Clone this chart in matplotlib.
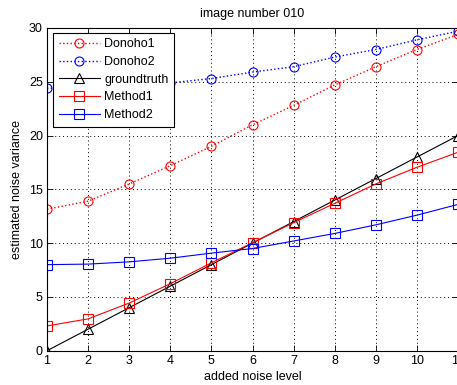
import matplotlib
matplotlib.use("Agg")
import matplotlib.pyplot as plt

plt.rcParams['font.family'] = ['Liberation Sans', 'DejaVu Sans']

noise_level = [1, 2, 3, 4, 5, 6, 7, 8, 9, 10, 11]
donoho1 = [13.15, 13.9, 15.5, 17.2, 19.0, 21.0, 22.8, 24.7, 26.4, 28.0, 29.4]
donoho2 = [24.4, 24.5, 24.7, 24.9, 25.3, 25.9, 26.4, 27.3, 28.0, 28.9, 29.7]
groundtruth = [0, 2, 4, 6, 8, 10, 12, 14, 16, 18, 20]
method1 = [2.3, 2.96, 4.43, 6.23, 8.17, 10.04, 11.9, 13.7, 15.5, 17.05, 18.45]
method2 = [8.0, 8.05, 8.26, 8.6, 9.07, 9.5, 10.2, 10.9, 11.7, 12.6, 13.6]
xticks = [1, 2, 3, 4, 5, 6, 7, 8, 9, 10, 11]
yticks = [0, 5, 10, 15, 20, 25, 30]

fig = plt.figure(figsize=(4.57, 3.85), dpi=100)
ax = fig.add_axes([47 / 457, 1 - 350.7 / 385, 411 / 457, 322.7 / 385])

mk = dict(markersize=6.5, markerfacecolor='none', markeredgewidth=0.8)
ax.plot(noise_level, donoho1, ':', color='#ff0000', marker='o', lw=1, label='Donoho1', **mk)
ax.plot(noise_level, donoho2, ':', color='#0000ff', marker='o', lw=1, label='Donoho2', **mk)
ax.plot(noise_level, groundtruth, '-', color='black', marker='^', lw=0.8, label='groundtruth', **mk)
ax.plot(noise_level, method1, '-', color='#ff0000', marker='s', lw=0.8, label='Method1', **mk)
ax.plot(noise_level, method2, '-', color='#0000ff', marker='s', lw=0.8, label='Method2', **mk)

ax.set_xlim(1, 11)
ax.set_ylim(0, 30)
ax.set_xticks(xticks)
ax.set_yticks(yticks)
ax.tick_params(direction='in', top=True, right=True, labelsize=9, length=4, width=0.6, pad=3)
ax.grid(True, linestyle=(0, (1, 3)), color='black', lw=0.7)
for s in ax.spines.values():
    s.set_linewidth(0.8)

ax.set_title('image number 010', fontsize=9, pad=8)
ax.set_xlabel('added noise level', fontsize=9, labelpad=3)
ax.set_ylabel('estimated noise variance', fontsize=9, labelpad=4)

leg = ax.legend(loc='upper left', bbox_to_anchor=(0.0146, 0.985), borderaxespad=0,
                fontsize=9, fancybox=False, framealpha=1, edgecolor='black',
                handlelength=3.3, labelspacing=0.45, borderpad=0.45, handletextpad=0.35)
leg.get_frame().set_linewidth(0.8)

fig.savefig('out.png', dpi=100)
